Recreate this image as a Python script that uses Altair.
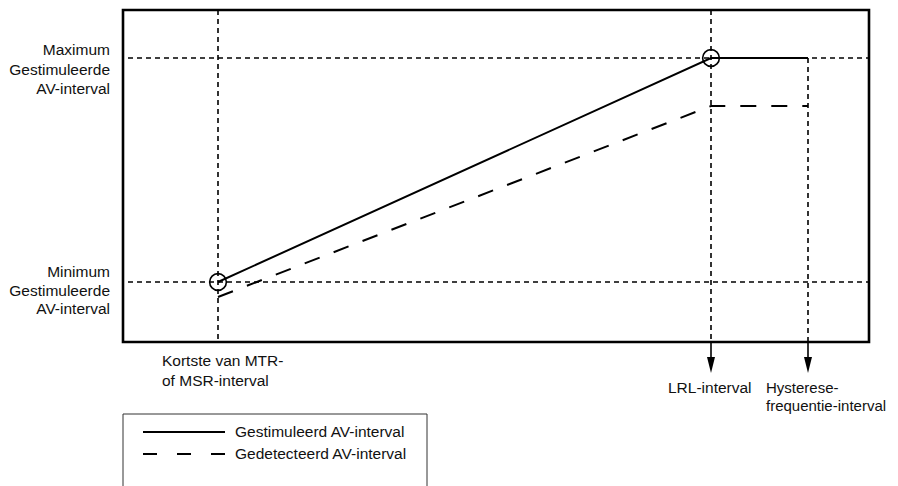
import altair as alt
import pandas as pd

# ---- schematic values (x: rate interval units, y: AV-delay units) ----
interval_x = [210, 703, 800]          # MTR/MSR interval, LRL interval, hysteresis interval
paced_av = [204, 428, 428]            # Gestimuleerd AV-interval
sensed_av = [189, 380, 380]           # Gedetecteerd AV-interval
av_min, av_max = 204, 428
frame_x = [115, 861]
frame_y = [144, 476]
guide_x_start = 120
arrow_center_y = 121
arrow_base_y = 129

y_labels_max = ["Maximum", "Gestimuleerde", "AV-interval"]
y_labels_max_y = [436, 416.5, 397]
y_labels_min = ["Minimum", "Gestimuleerde", "AV-interval"]
y_labels_min_y = [214, 195.5, 177]
y_label_x = 102

bottom_labels = ["Kortste van MTR-", "of MSR-interval", "LRL-interval"]
bottom_labels_x = [154, 154, 660]
bottom_labels_y = [125, 105, 98]

hyst_labels = ["Hysterese-", "frequentie-interval"]
hyst_labels_x = [758, 758]
hyst_labels_y = [98, 80]

legend_box_x = [115, 419]
legend_box_y = [-20, 72]
legend_names = ["Gestimuleerd AV-interval", "Gedetecteerd AV-interval"]
legend_y = [54, 32]
legend_line_x = [135, 217]
legend_text_x = 227

W, H = 882, 478
FONT = "Liberation Sans"
FS = 15.5

xs = alt.Scale(domain=[0, W], nice=False, zero=False)
ys = alt.Scale(domain=[0, H], nice=False, zero=False)


def X(field="x"):
    return alt.X(f"{field}:Q", scale=xs, axis=None)


def Y(field="y"):
    return alt.Y(f"{field}:Q", scale=ys, axis=None)


# dashed guide lines inside the frame
guides = pd.DataFrame({
    "x": [guide_x_start, guide_x_start, interval_x[0], interval_x[1], interval_x[2]],
    "x2": [frame_x[1], frame_x[1], interval_x[0], interval_x[1], interval_x[2]],
    "y": [av_max, av_min, frame_y[1], frame_y[1], av_max],
    "y2": [av_max, av_min, frame_y[0], frame_y[0], frame_y[0]],
})
guide_layer = alt.Chart(guides).mark_rule(
    color="black", strokeWidth=1.6, strokeDash=[5, 4]
).encode(x=X(), x2="x2:Q", y=Y(), y2="y2:Q")

# solid stems below frame to arrows
stems = pd.DataFrame({
    "x": interval_x[1:], "y": [frame_y[0]] * 2, "y2": [arrow_base_y] * 2,
})
stem_layer = alt.Chart(stems).mark_rule(color="black", strokeWidth=1.6).encode(
    x=X(), y=Y(), y2="y2:Q")

arrows = pd.DataFrame({"x": interval_x[1:], "y": [arrow_center_y] * 2})
arrow_layer = alt.Chart(arrows).mark_point(
    shape="M-0.5,-1L0.5,-1L0,1Z", filled=True, size=256, color="black", opacity=1
).encode(x=X(), y=Y())

# frame
frame = pd.DataFrame({"x": [frame_x[0]], "x2": [frame_x[1]], "y": [frame_y[0]], "y2": [frame_y[1]]})
frame_layer = alt.Chart(frame).mark_rect(
    fill=None, stroke="black", strokeWidth=2.6
).encode(x=X(), x2="x2:Q", y=Y(), y2="y2:Q")

# series lines
paced = pd.DataFrame({"x": interval_x, "y": paced_av, "o": [0, 1, 2]})
paced_layer = alt.Chart(paced).mark_line(color="black", strokeWidth=2).encode(
    x=X(), y=Y(), order="o:O")

sensed = pd.DataFrame({"x": interval_x, "y": sensed_av, "o": [0, 1, 2]})
sensed_layer = alt.Chart(sensed).mark_line(
    color="black", strokeWidth=2, strokeDash=[16, 15]
).encode(x=X(), y=Y(), order="o:O")

circles = pd.DataFrame({"x": interval_x[:2], "y": [av_min, av_max]})
circle_layer = alt.Chart(circles).mark_point(
    shape="circle", filled=False, size=280, color="black", strokeWidth=1.6, opacity=1
).encode(x=X(), y=Y())

# labels
ylab = pd.DataFrame({
    "t": y_labels_max + y_labels_min,
    "y": y_labels_max_y + y_labels_min_y,
    "x": [y_label_x] * 6,
})
ylab_layer = alt.Chart(ylab).mark_text(
    align="right", baseline="middle", font=FONT, fontSize=FS, color="#111"
).encode(x=X(), y=Y(), text="t:N")

blab = pd.DataFrame({"t": bottom_labels, "x": bottom_labels_x, "y": bottom_labels_y})
blab_layer = alt.Chart(blab).mark_text(
    align="left", baseline="middle", font=FONT, fontSize=FS, color="#111"
).encode(x=X(), y=Y(), text="t:N")

hlab = pd.DataFrame({"t": hyst_labels, "x": hyst_labels_x, "y": hyst_labels_y})
hlab_layer = alt.Chart(hlab).mark_text(
    align="left", baseline="middle", font=FONT, fontSize=15, color="#111"
).encode(x=X(), y=Y(), text="t:N")

# legend
lbox = pd.DataFrame({"x": [legend_box_x[0]], "x2": [legend_box_x[1]],
                     "y": [legend_box_y[0]], "y2": [legend_box_y[1]]})
lbox_layer = alt.Chart(lbox).mark_rect(
    fill=None, stroke="#333", strokeWidth=1, clip=True
).encode(x=X(), x2="x2:Q", y=Y(), y2="y2:Q")

lsolid = pd.DataFrame({"x": [legend_line_x[0]], "x2": [legend_line_x[1]], "y": [legend_y[0]]})
lsolid_layer = alt.Chart(lsolid).mark_rule(color="black", strokeWidth=1.8).encode(
    x=X(), x2="x2:Q", y=Y())
ldash = pd.DataFrame({"x": [legend_line_x[0]], "x2": [legend_line_x[1] + 8], "y": [legend_y[1]]})
ldash_layer = alt.Chart(ldash).mark_rule(
    color="black", strokeWidth=1.8, strokeDash=[14, 20]
).encode(x=X(), x2="x2:Q", y=Y())

ltext = pd.DataFrame({"t": legend_names, "x": [legend_text_x] * 2, "y": legend_y})
ltext_layer = alt.Chart(ltext).mark_text(
    align="left", baseline="middle", font=FONT, fontSize=FS, color="#111"
).encode(x=X(), y=Y(), text="t:N")

chart = alt.layer(
    guide_layer, stem_layer, arrow_layer, frame_layer,
    sensed_layer, paced_layer, circle_layer,
    ylab_layer, blab_layer, hlab_layer,
    lbox_layer, lsolid_layer, ldash_layer, ltext_layer,
).properties(
    width=W, height=H, padding=0, autosize=alt.AutoSizeParams(type="none"),
).configure_view(stroke=None)

chart.save("out.html", embed_options={"renderer": "svg", "actions": False})
